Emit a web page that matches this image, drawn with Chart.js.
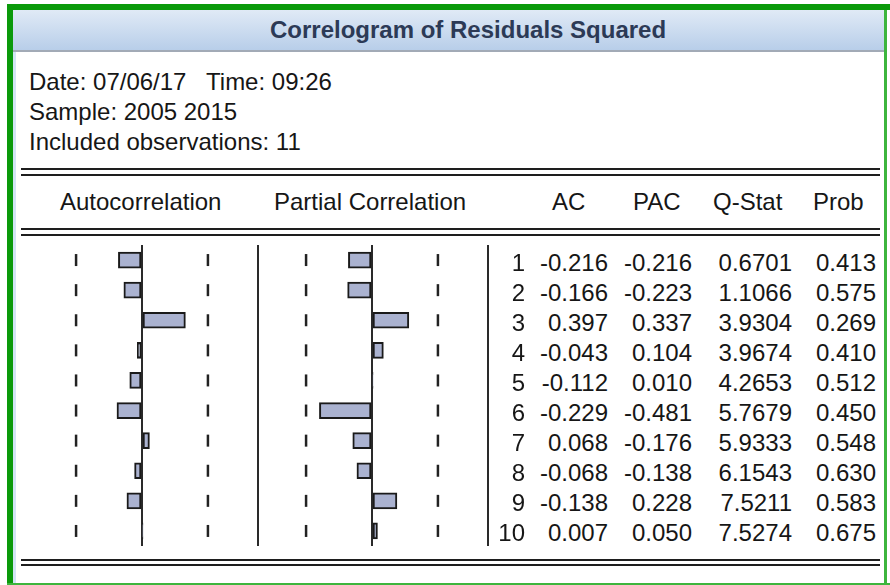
<!DOCTYPE html>
<html>
<head>
<meta charset="utf-8">
<script src="https://cdn.jsdelivr.net/npm/chart.js@4.4.0/dist/chart.umd.min.js"></script>
<style>
  html, body { margin: 0; padding: 0; background: #fff; }
  body {
    width: 890px; height: 585px; position: relative; overflow: hidden;
    font-family: "Liberation Sans", Arial, sans-serif; color: #161616;
  }
  .abs { position: absolute; }
  .txt { position: absolute; white-space: pre; font-size: 24px; line-height: 30px; }
  .rule { position: absolute; left: 21px; width: 859px; height: 2px; background: #1e1e1e; }
  .green { position: absolute; background: #0b9a0b; }
  canvas { position: absolute; }
  #titleBar {
    left: 13px; top: 10px; width: 871px; height: 40px;
    background: linear-gradient(#e0eaf6, #b8cee9);
    border-bottom: 2px solid #a2aab6;
  }
  #title { left: 270px; top: 15px; font-weight: bold; color: #2c3a56; }
</style>
</head>
<body>

<!-- frame -->
<div class="green" style="left:7px; top:4px; width:883px; height:6px;"></div>
<div class="green" style="left:7px; top:4px; width:6px; height:581px;"></div>
<div class="green" style="left:7px; top:583px; width:883px; height:2px; background:#3db53d;"></div>
<div class="green" style="left:884px; top:10px; width:3px; height:575px; background:#3db53d;"></div>
<div class="abs" style="left:13px; top:52px; width:3px; height:531px; background:#d3e5f5;"></div>

<div class="abs" id="titleBar"></div>
<div class="txt" id="title">Correlogram of Residuals Squared</div>

<div class="txt" style="left:29px; top:67px;">Date: 07/06/17   Time: 09:26</div>
<div class="txt" style="left:29px; top:97px;">Sample: 2005 2015</div>
<div class="txt" style="left:29px; top:127px;">Included observations: 11</div>

<div class="rule" style="top:168px;"></div>
<div class="rule" style="top:174px;"></div>

<div class="txt" style="left:60px; top:187px;">Autocorrelation</div>
<div class="txt" style="left:274px; top:187px;">Partial Correlation</div>
<div class="txt" style="left:552px; top:187px;">AC</div>
<div class="txt" style="left:633px; top:187px;">PAC</div>
<div class="txt" style="left:713px; top:187px;">Q-Stat</div>
<div class="txt" style="left:813px; top:187px;">Prob</div>

<div class="rule" style="top:228px;"></div>
<div class="rule" style="top:234px;"></div>

<canvas id="acChart" width="242" height="301" style="left:20px; top:245px;"></canvas>
<canvas id="pacChart" width="242" height="301" style="left:250px; top:245px;"></canvas>

<div id="table"></div>

<div class="rule" style="top:559px;"></div>
<div class="rule" style="top:564px;"></div>

<script>
// Correlogram values read from the EViews output
const lags = ['1', '2', '3', '4', '5', '6', '7', '8', '9', '10'];
const acValues = [-0.216, -0.166, 0.397, -0.043, -0.112, -0.229, 0.068, -0.068, -0.138, 0.007];
const pacValues = [-0.216, -0.223, 0.337, 0.104, 0.010, -0.481, -0.176, -0.138, 0.228, 0.050];
const qStatValues = [0.6701, 1.1066, 3.9304, 3.9674, 4.2653, 5.7679, 5.9333, 6.1543, 7.5211, 7.5274];
const probValues = [0.413, 0.575, 0.269, 0.410, 0.512, 0.450, 0.548, 0.630, 0.583, 0.675];

// dashed bounds (approx. 2 standard errors) and half width of each panel
const bandLimit = 0.603;
const axisLimit = 1.061;

function makePanel(canvasId, values) {
    const ctx = document.getElementById(canvasId).getContext('2d');
    return new Chart(ctx, {
        type: 'bar',
        data: {
            labels: lags,
            datasets: [{
                data: values,
                backgroundColor: '#aab2d0',
                borderColor: '#1a1a1a',
                borderWidth: 2,
                borderSkipped: false,
                barThickness: 16
            }, {
                type: 'scatter',
                data: lags.flatMap(l => [{ x: -bandLimit, y: l }, { x: bandLimit, y: l }]),
                showLine: false,
                borderColor: '#222',
                pointStyle: 'line',
                pointRotation: 90,
                pointRadius: 6,
                pointBorderWidth: 2.5,
                pointBorderColor: '#222'
            }]
        },
        options: {
            indexAxis: 'y',
            responsive: false,
            animation: false,
            events: [],
            layout: { autoPadding: false, padding: { left: 6, right: 4, top: 0, bottom: 0 } },
            plugins: {
                legend: { display: false },
                tooltip: { enabled: false }
            },
            scales: {
                x: {
                    type: 'linear',
                    min: -axisLimit,
                    max: axisLimit,
                    ticks: { display: false },
                    border: { display: false },
                    grid: {
                        drawTicks: false,
                        lineWidth: 2,
                        // zero line and the panel's right edge only
                        color: c => (c.tick && c.tick.value > -axisLimit ? '#2a2a2a' : 'rgba(0,0,0,0)')
                    },
                    afterBuildTicks: scale => {
                        scale.ticks = [{ value: -axisLimit }, { value: 0 }, { value: axisLimit }];
                    }
                },
                y: {
                    type: 'category',
                    display: false
                }
            }
        }
    });
}

makePanel('acChart', acValues);
makePanel('pacChart', pacValues);

// Numeric columns, right aligned
const columns = [
    { values: lags, fmt: v => v, right: 525 },
    { values: acValues, fmt: v => v.toFixed(3), right: 608 },
    { values: pacValues, fmt: v => v.toFixed(3), right: 692 },
    { values: qStatValues, fmt: v => v.toFixed(4), right: 792 },
    { values: probValues, fmt: v => v.toFixed(3), right: 876 }
];

const table = document.getElementById('table');
lags.forEach((lag, i) => {
    columns.forEach(col => {
        const span = document.createElement('div');
        span.className = 'txt';
        span.style.right = (890 - col.right) + 'px';
        span.style.top = (248 + i * 30) + 'px';
        span.textContent = col.fmt(col.values[i]);
        table.appendChild(span);
    });
});
</script>
</body>
</html>
